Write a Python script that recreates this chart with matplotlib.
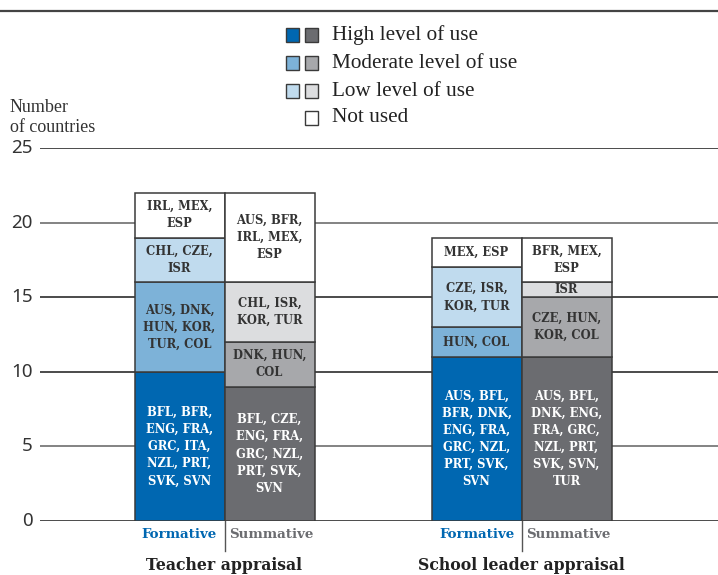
import matplotlib
matplotlib.use("Agg")
import matplotlib.pyplot as plt
from matplotlib.patches import Rectangle
from matplotlib.lines import Line2D

# ---- data -------------------------------------------------------------
groups = ["Teacher appraisal", "School leader appraisal"]
kinds = ["Formative", "Summative"]
levels = ["High level of use", "Moderate level of use", "Low level of use", "Not used"]

# number of countries per level (High, Moderate, Low, Not used)
teacher_formative = [10, 6, 3, 3]
teacher_summative = [9, 3, 4, 6]
leader_formative = [11, 2, 4, 2]
leader_summative = [11, 4, 1, 3]

teacher_formative_labels = [
    "BFL, BFR,\nENG, FRA,\nGRC, ITA,\nNZL, PRT,\nSVK, SVN",
    "AUS, DNK,\nHUN, KOR,\nTUR, COL",
    "CHL, CZE,\nISR",
    "IRL, MEX,\nESP",
]
teacher_summative_labels = [
    "BFL, CZE,\nENG, FRA,\nGRC, NZL,\nPRT, SVK,\nSVN",
    "DNK, HUN,\nCOL",
    "CHL, ISR,\nKOR, TUR",
    "AUS, BFR,\nIRL, MEX,\nESP",
]
leader_formative_labels = [
    "AUS, BFL,\nBFR, DNK,\nENG, FRA,\nGRC, NZL,\nPRT, SVK,\nSVN",
    "HUN, COL",
    "CZE, ISR,\nKOR, TUR",
    "MEX, ESP",
]
leader_summative_labels = [
    "AUS, BFL,\nDNK, ENG,\nFRA, GRC,\nNZL, PRT,\nSVK, SVN,\nTUR",
    "CZE, HUN,\nKOR, COL",
    "ISR",
    "BFR, MEX,\nESP",
]

y_ticks = [0, 5, 10, 15, 20, 25]

# ---- style --------------------------------------------------------------
blues = ["#0067b1", "#7db2d8", "#c0dbee", "#ffffff"]
greys = ["#6b6c70", "#a7a8ab", "#dcdddf", "#ffffff"]
edge = "#3a3a3a"
dark_text = "#333333"
serif = ["Liberation Serif", "DejaVu Serif"]
slab = ["DejaVu Serif"]

W, H = 718, 575
fig = plt.figure(figsize=(W / 100, H / 100), dpi=100)

def fx(px):
    return px / W

def fy(py):
    return 1 - py / H

ax_left, ax_right, ax_top, ax_bottom = 40, 718, 148, 521
ax = fig.add_axes([fx(ax_left), fy(ax_bottom), fx(ax_right - ax_left),
                   (ax_bottom - ax_top) / H])
bar_w = 1.0
ax.set_xlim(0, (ax_right - ax_left) / 90)
ax.set_ylim(0, 25)
for s in ax.spines.values():
    s.set_visible(False)
ax.set_xticks([])
ax.set_yticks([])

# gridlines
for t in y_ticks:
    ax.axhline(t, color="#3d3d3d" if t in (0, 10, 15, 25) else "#7a7a7a",
               lw=1.3, zorder=0)
    fig.text(fx(33), fy(ax_bottom - (ax_bottom - ax_top) * t / 25), str(t),
             ha="right", va="center", fontsize=13.5, color="#333333",
             family=["Noto Sans", "DejaVu Sans"])

group_centers = [2.05, 5.35]
series = [
    (teacher_formative, teacher_formative_labels, blues, group_centers[0] - 0.5),
    (teacher_summative, teacher_summative_labels, greys, group_centers[0] + 0.5),
    (leader_formative, leader_formative_labels, blues, group_centers[1] - 0.5),
    (leader_summative, leader_summative_labels, greys, group_centers[1] + 0.5),
]

for values, labels, colors, xc in series:
    bottom = 0
    for i, (v, lab, c) in enumerate(zip(values, labels, colors)):
        ax.bar(xc, v, width=bar_w, bottom=bottom, color=c, edgecolor=edge,
               linewidth=1.1, zorder=2)
        ax.text(xc, bottom + v / 2, lab, ha="center", va="center",
                fontsize=8.3, fontweight="bold", family=slab,
                color="white" if i == 0 else dark_text, linespacing=1.42,
                zorder=3)
        bottom += v

# category labels under bars
for gc, gname in zip(group_centers, groups):
    ax.text(gc - 0.5, -0.9, kinds[0], ha="center", va="center", fontsize=9.6,
            fontweight="bold", family=slab, color="#0067b1")
    ax.text(gc + 0.52, -0.9, kinds[1], ha="center", va="center", fontsize=9.6,
            fontweight="bold", family=slab, color="#6b6c70")
    ax.add_line(Line2D([gc, gc], [0, -2.0], color="#555555", lw=1.0,
                       clip_on=False))
    ax.text(gc, -3.0, gname, ha="center", va="center", fontsize=11.3,
            fontweight="bold", family=slab, color="#222222")

# y-axis caption
fig.text(fx(10), fy(107), "Number", ha="left", va="center", fontsize=13,
         family=serif, color="#333333")
fig.text(fx(10), fy(127), "of countries", ha="left", va="center",
         fontsize=13, family=serif, color="#333333")

# rule at the top
fig.add_artist(Line2D([0, 1], [fy(11), fy(11)], color="#444444", lw=1.6))

# legend
leg_rows = [35, 63, 91, 118]
sq = 13
for r, (lvl, py) in enumerate(zip(levels, leg_rows)):
    if r < 3:
        boxes = [(286, blues[r]), (305, greys[r])]
    else:
        boxes = [(305, "#ffffff")]
    for bx, c in boxes:
        fig.add_artist(Rectangle((fx(bx), fy(py + sq / 2)), fx(sq), sq / H,
                                 facecolor=c, edgecolor=edge, lw=1.0))
    fig.text(fx(332), fy(py), lvl, ha="left", va="center", fontsize=15.3,
             family=serif, color="#222222")

fig.savefig("out.png", dpi=100)
